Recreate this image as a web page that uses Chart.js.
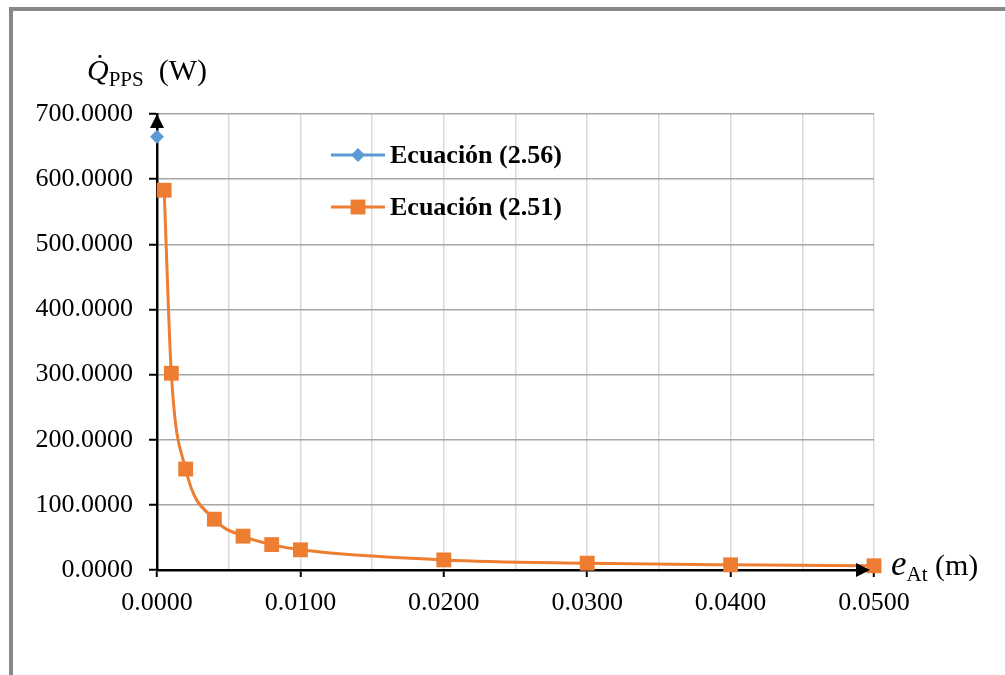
<!DOCTYPE html>
<html>
<head>
<meta charset="utf-8">
<script src="https://cdn.jsdelivr.net/npm/chart.js@4"></script>
<style>
  html, body { margin: 0; padding: 0; background: #fff; }
  body { width: 1005px; height: 675px; position: relative; overflow: hidden; }
  .frame { position: absolute; left: 9px; top: 7px; width: 1100px; height: 800px; border: 4px solid #888; }
  .wrap { position: absolute; left: 0; top: 0; width: 1005px; height: 675px; }
  .ttl { position: absolute; font-family: 'Liberation Serif', serif; font-size: 30px; color: #000; white-space: nowrap; line-height: 1; }
  .ttl i { font-style: italic; }
  .ttl sub { font-size: 21px; vertical-align: baseline; position: relative; top: 6px; }
</style>
</head>
<body>
<div class="frame"></div>
<div class="wrap"><canvas id="ctx-chart" width="1005" height="675"></canvas></div>
<div class="ttl" style="left:87px; top:55px;"><i>Q&#775;</i><sub>PPS</sub>&nbsp;&nbsp;(W)</div>
<div class="ttl" style="left:891px; top:546px;"><i style="font-size:35px">e</i><sub>At</sub>&nbsp;(m)</div>
<script>
// espesor (m) y calor (W)
const eq256_x = [0.0];
const eq256_y = [665];
const eq251_x = [0.0005, 0.001, 0.002, 0.004, 0.006, 0.008, 0.01, 0.02, 0.03, 0.04, 0.05];
const eq251_y = [583, 302, 155, 78, 52, 39, 31, 15.5, 10.5, 8, 6.5];
const labels = ['Ecuación (2.56)', 'Ecuación (2.51)'];

const blue = '#5b9bd5';
const orange = '#ed7d31';

const toPoints = (xs, ys) => xs.map((x, i) => ({ x: x, y: ys[i] }));

// leyenda dentro del area
const legendInside = {
    id: 'legendInside',
    afterDraw(chart) {
        const ctx = chart.ctx;
        const rows = [155, 207];
        chart.data.datasets.forEach((ds, i) => {
            const y = rows[i];
            ctx.save();
            ctx.strokeStyle = ds.borderColor;
            ctx.lineWidth = 3;
            ctx.beginPath();
            ctx.moveTo(331, y);
            ctx.lineTo(385, y);
            ctx.stroke();
            ctx.fillStyle = ds.pointBackgroundColor;
            ctx.strokeStyle = ds.pointBackgroundColor;
            Chart.helpers.drawPoint(ctx, {
                pointStyle: ds.pointStyle,
                radius: ds.pointRadius,
                rotation: 0,
                borderWidth: 0
            }, 358, y);
            ctx.fillStyle = '#000';
            ctx.font = 'bold 26px "Liberation Serif"';
            ctx.textBaseline = 'middle';
            ctx.fillText(ds.label, 390, y + 1);
            ctx.restore();
        });
    }
};

// flechas de los ejes
const axisArrows = {
    id: 'axisArrows',
    afterDraw(chart) {
        const a = chart.chartArea;
        const ctx = chart.ctx;
        ctx.save();
        ctx.fillStyle = '#000';
        ctx.beginPath();
        ctx.moveTo(a.left, a.top);
        ctx.lineTo(a.left - 7, a.top + 14);
        ctx.lineTo(a.left + 7, a.top + 14);
        ctx.closePath();
        ctx.fill();
        ctx.beginPath();
        ctx.moveTo(a.right - 4, a.bottom);
        ctx.lineTo(a.right - 18, a.bottom - 7);
        ctx.lineTo(a.right - 18, a.bottom + 7);
        ctx.closePath();
        ctx.fill();
        ctx.restore();
    }
};

const tickFont = { family: 'Liberation Serif', size: 26 };

new Chart(document.getElementById('ctx-chart'), {
    type: 'scatter',
    data: {
        datasets: [
            {
                label: labels[0],
                data: toPoints(eq256_x, eq256_y),
                showLine: true,
                borderColor: blue,
                backgroundColor: blue,
                pointBackgroundColor: blue,
                pointBorderWidth: 0,
                pointStyle: 'rectRot',
                pointRadius: 7,
                borderWidth: 3,
                clip: false
            },
            {
                label: labels[1],
                data: toPoints(eq251_x, eq251_y),
                showLine: true,
                borderColor: orange,
                backgroundColor: orange,
                pointBackgroundColor: orange,
                pointBorderWidth: 0,
                pointStyle: 'rect',
                pointRadius: 10.5,
                borderWidth: 3,
                cubicInterpolationMode: 'monotone',
                clip: false
            }
        ]
    },
    options: {
        responsive: false,
        animation: false,
        layout: { padding: { left: 0, top: 114, right: 131, bottom: 0 } },
        plugins: {
            legend: { display: false },
            tooltip: { enabled: false }
        },
        scales: {
            x: {
                type: 'linear',
                min: 0,
                max: 0.05,
                afterFit: (s) => { s.height = 105; },
                ticks: {
                    stepSize: 0.005,
                    autoSkip: false,
                    maxRotation: 0,
                    color: '#000',
                    font: tickFont,
                    padding: 11,
                    callback: (v, i) => (i % 2 === 0 ? v.toFixed(4) : '')
                },
                grid: {
                    color: '#d9d9d9',
                    lineWidth: 1.5,
                    tickLength: 7,
                    tickColor: (c) => (c.index % 2 === 0 ? '#000' : 'rgba(0,0,0,0)'),
                    tickWidth: 2
                },
                border: { color: '#000', width: 2.5 }
            },
            y: {
                min: 0,
                max: 700,
                afterFit: (s) => { s.width = 157; },
                ticks: {
                    stepSize: 100,
                    color: '#000',
                    font: tickFont,
                    padding: 16,
                    callback: (v) => v.toFixed(4)
                },
                grid: {
                    color: '#a6a6a6',
                    lineWidth: 1.5,
                    tickLength: 8,
                    tickColor: '#000',
                    tickWidth: 2
                },
                border: { color: '#000', width: 2.5 }
            }
        }
    },
    plugins: [legendInside, axisArrows]
});
</script>
</body>
</html>
